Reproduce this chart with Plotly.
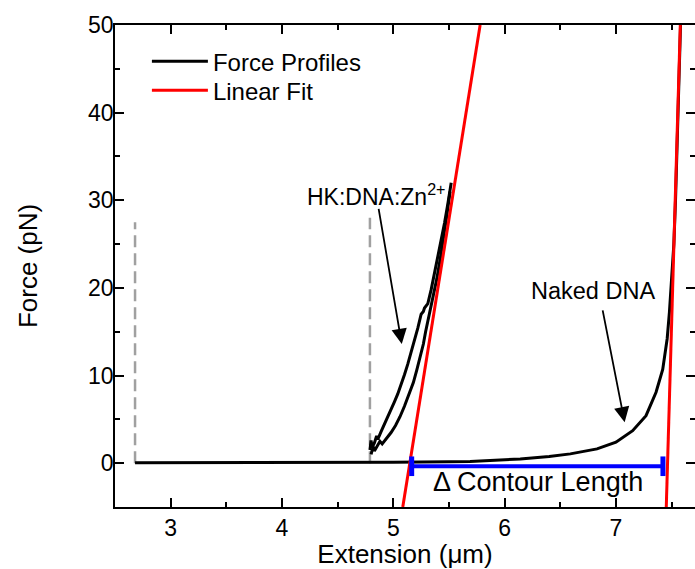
import plotly.graph_objects as go

# ---- data ----
naked_x = [2.68, 3.5, 4.0, 4.5, 5.0, 5.5, 5.69, 6.14, 6.4, 6.59, 6.83, 7.0, 7.15, 7.27,
           7.36, 7.42, 7.46, 7.48, 7.50, 7.52, 7.535, 7.555, 7.58]
naked_f = [0.05, 0.05, 0.08, 0.1, 0.12, 0.15, 0.18, 0.49, 0.75, 1.06, 1.63, 2.39, 3.71, 5.42,
           8.09, 10.7, 14.2, 17.2, 21.0, 25.0, 30.0, 40.0, 50.0]

hk1_x = [4.79, 4.80, 4.81, 4.83, 4.85, 4.86, 4.89, 4.92, 4.95, 4.98, 5.01, 5.04, 5.07, 5.10,
         5.13, 5.16, 5.19, 5.22, 5.25, 5.27, 5.28, 5.31, 5.34, 5.37, 5.40, 5.43, 5.46, 5.49, 5.52]
hk1_f = [1.5, 2.6, 1.8, 2.3, 3.1, 2.7, 3.6, 4.4, 5.3, 6.2, 7.0, 7.9, 8.9, 10.1,
         11.3, 12.6, 14.0, 15.4, 17.0, 17.3, 17.7, 18.2, 19.8, 21.6, 23.4, 25.2, 27.4, 29.6, 32.0]

hk2_x = [4.80, 4.82, 4.83, 4.86, 4.88, 4.90, 4.94, 4.98, 5.02, 5.06, 5.10, 5.14, 5.18, 5.21,
         5.24, 5.27, 5.29, 5.31, 5.33, 5.36, 5.39, 5.42, 5.45, 5.48, 5.51]
hk2_f = [1.0, 1.9, 1.4, 2.0, 2.5, 2.2, 2.8, 3.5, 4.3, 5.3, 6.5, 7.8, 9.2, 10.6,
         12.0, 13.6, 15.0, 16.2, 17.6, 19.0, 21.0, 23.2, 25.6, 28.2, 31.0]

fit1_x = [5.085, 5.78]
fit1_f = [-5.0, 50.0]
fit2_x = [7.452, 7.578]
fit2_f = [-5.0, 50.0]

dash1_x = [2.68, 2.68]
dash1_f = [0.0, 27.5]
dash2_x = [4.79, 4.79]
dash2_f = [0.0, 28.0]

contour_x = [5.165, 7.422]
contour_f = [-0.35, -0.35]

FONT = "Liberation Sans, Arial, sans-serif"

fig = go.Figure()

def joined(*pairs):
    xs, ys = [], []
    for i, (x, y) in enumerate(pairs):
        if i:
            xs.append(None); ys.append(None)
        xs += list(x); ys += list(y)
    return xs, ys

# gray dashed markers
for dx, df in [(dash1_x, dash1_f), (dash2_x, dash2_f)]:
    fig.add_trace(go.Scatter(x=dx, y=df, mode="lines", showlegend=False,
                             line=dict(color="#a0a0a0", width=2.5, dash="12px,6px")))

fx, ff = joined((naked_x, naked_f), (hk1_x, hk1_f), (hk2_x, hk2_f))
fig.add_trace(go.Scatter(x=fx, y=ff, mode="lines", name="Force Profiles", legend="legend",
                         line=dict(color="black", width=3)))

lx, lf = joined((fit1_x, fit1_f), (fit2_x, fit2_f))
fig.add_trace(go.Scatter(x=lx, y=lf, mode="lines", name="Linear Fit", legend="legend2",
                         line=dict(color="#ff0000", width=3)))

fig.add_trace(go.Scatter(x=contour_x, y=contour_f, mode="lines+markers", showlegend=False,
                         line=dict(color="#0000ff", width=4),
                         marker=dict(symbol="line-ns", size=14,
                                     line=dict(color="#0000ff", width=5))))

# annotations
fig.add_annotation(x=4.205, y=30.6, xref="x", yref="y", xanchor="left", yanchor="middle",
                   text="HK:DNA:Zn<sup>2+</sup>", showarrow=False,
                   font=dict(family=FONT, size=23, color="black"))
fig.add_annotation(x=5.076, y=13.6, ax=4.866, ay=29.2, xref="x", yref="y",
                   axref="x", ayref="y", text="", showarrow=True,
                   arrowhead=2, arrowsize=1.7, arrowwidth=1.8, arrowcolor="black")
fig.add_annotation(x=6.79, y=19.6, xref="x", yref="y", text="Naked DNA", showarrow=False,
                   font=dict(family=FONT, size=23.5, color="black"))
fig.add_annotation(x=7.078, y=4.67, ax=6.878, ay=17.6, xref="x", yref="y",
                   axref="x", ayref="y", text="", showarrow=True,
                   arrowhead=2, arrowsize=1.7, arrowwidth=1.8, arrowcolor="black")
fig.add_annotation(x=6.3, y=-2.1, xref="x", yref="y", text="Δ Contour Length",
                   showarrow=False, font=dict(family=FONT, size=27, color="black"))

axis_common = dict(showline=True, linecolor="black", linewidth=1.5, mirror="ticks",
                   ticks="inside", ticklen=9, tickwidth=1.5, tickcolor="black",
                   showgrid=False, zeroline=False, automargin=False,
                   tickfont=dict(family=FONT, size=23, color="black"))

fig.update_xaxes(range=[2.5, 7.71], dtick=1, tick0=0,
                 minor=dict(dtick=0.5, ticks="inside", ticklen=5, tickwidth=1.5,
                            tickcolor="black", showgrid=False),
                 title=dict(text="Extension (μm)", standoff=15,
                            font=dict(family=FONT, size=26, color="black")),
                 ticklabelstandoff=0, **axis_common)
fig.update_yaxes(range=[-5, 50], dtick=10, tick0=0,
                 minor=dict(dtick=5, ticks="inside", ticklen=5, tickwidth=1.5,
                            tickcolor="black", showgrid=False),
                 title=dict(text="Force (pN)", standoff=43,
                            font=dict(family=FONT, size=26, color="black")),
                 ticklabelstandoff=-5, **axis_common)

leg_common = dict(xanchor="left", yanchor="top", bgcolor="rgba(0,0,0,0)", itemwidth=56,
                  font=dict(family=FONT, size=24, color="black"))
fig.update_layout(width=695, height=569,
                  margin=dict(l=115, r=0, t=25, b=62),
                  paper_bgcolor="white", plot_bgcolor="white",
                  font=dict(family=FONT, color="black"),
                  legend=dict(x=0.055, y=0.9705, **leg_common),
                  legend2=dict(x=0.055, y=0.9104, **leg_common))

fig.write_html("out.html", config={"displayModeBar": False},
               post_script="document.body.style.margin='0';"
                           "document.body.style.overflow='hidden';")
